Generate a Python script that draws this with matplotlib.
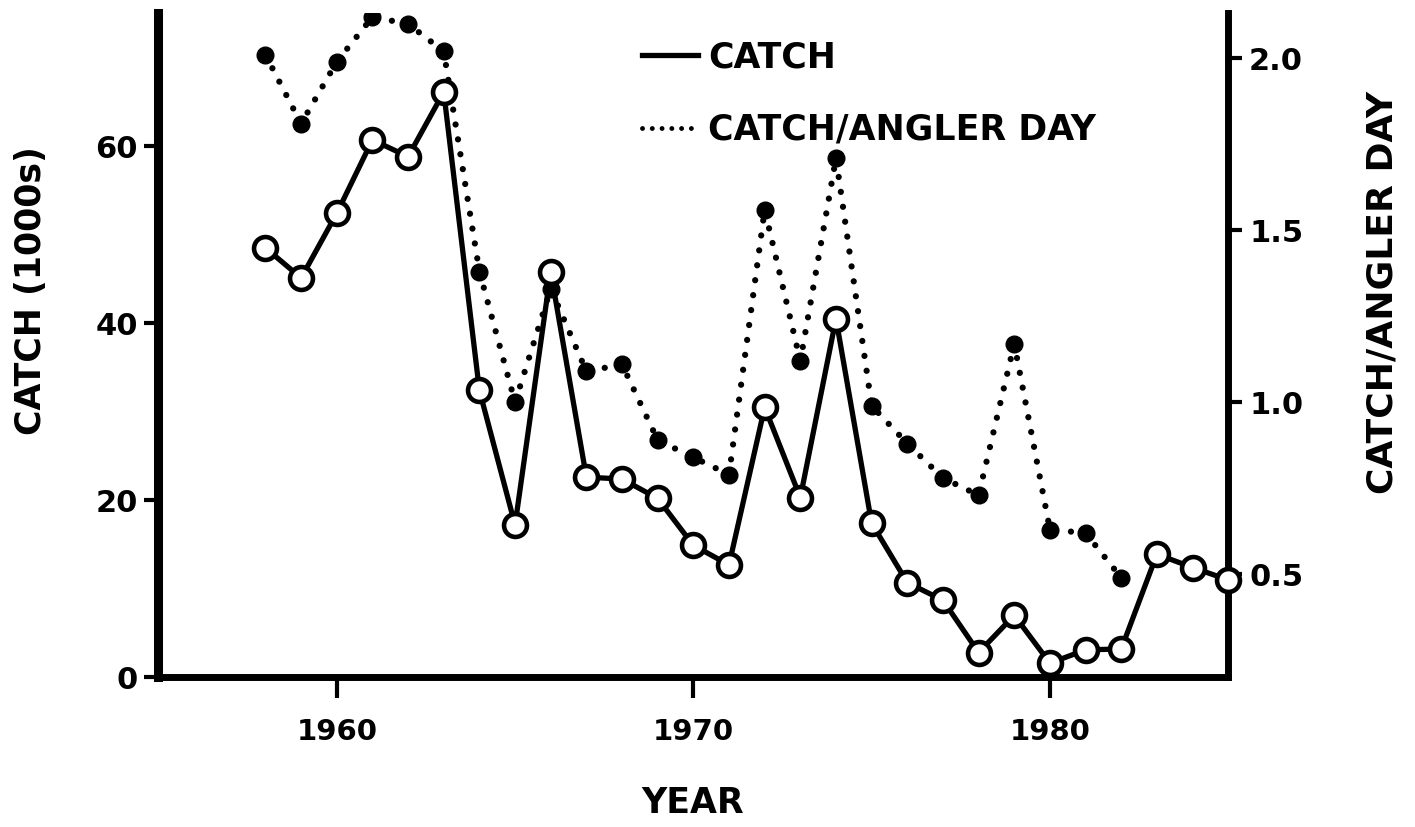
import numpy as np
import matplotlib.pyplot as plt
from matplotlib.lines import Line2D

# data
years = np.arange(1958, 1986)
catch = [48.5, 45.1, 52.4, 60.7, 58.8, 66.1, 32.4, 17.2, 45.8, 22.6,
         22.4, 20.2, 14.9, 12.7, 30.5, 20.3, 40.5, 17.4, 10.7, 8.7,
         2.8, 7.0, 1.6, 3.1, 3.2, 13.9, 12.4, 11.0]

cpue_years = np.arange(1958, 1983)
cpue = [2.01, 1.81, 1.99, 2.12, 2.10, 2.02, 1.38, 1.00, 1.33, 1.09,
        1.11, 0.89, 0.84, 0.79, 1.56, 1.12, 1.71, 0.99, 0.88, 0.78,
        0.73, 1.17, 0.63, 0.62, 0.49]

plt.rcParams['font.family'] = ['DejaVu Sans']
plt.rcParams['font.weight'] = 'bold'

fig = plt.figure(figsize=(14.15, 8.27), dpi=100)
ax = fig.add_axes([0.112, 0.181, 0.756, 0.803])
ax2 = ax.twinx()

# catch per angler day, dotted with big dots
ax2.plot(cpue_years, cpue, color='black', lw=4.5, linestyle=(0, (0.01, 2.4)),
         dash_capstyle='round', zorder=2)
ax2.plot(cpue_years, cpue, 'o', color='black', ms=12, zorder=3)

# catch line on top
ax.set_zorder(ax2.get_zorder() + 1)
ax.patch.set_visible(False)
ax.plot(years, catch, color='black', lw=3.8, marker='o', ms=16.5,
        mfc='white', mec='black', mew=3.3, zorder=4, clip_on=False)

ax.set_xlim(1955, 1985)
ax.set_ylim(0, 75)
ax2.set_ylim(0.2006, 2.131)

ax.set_xticks([1960, 1970, 1980])
ax.set_yticks([0, 20, 40, 60])
ax2.set_yticks([0.5, 1.0, 1.5, 2.0])
ax2.set_yticklabels(['0.5', '1.0', '1.5', '2.0'])

for a in (ax, ax2):
    a.spines['top'].set_visible(False)
ax.spines['left'].set_linewidth(6.5)
ax.spines['bottom'].set_linewidth(5)
ax.spines['right'].set_visible(False)
ax2.spines['left'].set_visible(False)
ax2.spines['bottom'].set_visible(False)
ax2.spines['right'].set_linewidth(5)

ax.tick_params(axis='x', direction='out', length=15, width=3, pad=14, labelsize=21)
ax.tick_params(axis='y', direction='out', length=10, width=3, pad=5, labelsize=22)
ax2.tick_params(axis='y', direction='out', length=10, width=3, pad=5, labelsize=22)

ax.set_xlabel('YEAR', fontsize=25, fontweight='bold')
ax.xaxis.set_label_coords(0.499, -0.163)
ax.set_ylabel('CATCH (1000s)', fontsize=25, fontweight='bold')
ax.yaxis.set_label_coords(-0.103, 0.583)
ax2.set_ylabel('CATCH/ANGLER DAY', fontsize=26, fontweight='bold')
ax2.yaxis.set_label_coords(1.128, 0.580)

handles = [Line2D([], [], color='black', lw=3.8),
           Line2D([], [], color='black', lw=3.5, linestyle=(0, (0.01, 2.0)),
                  dash_capstyle='round')]
ax.legend(handles, ['CATCH', 'CATCH/ANGLER DAY'], loc='upper left',
          bbox_to_anchor=(0.436, 0.985), frameon=False, fontsize=25,
          borderpad=0, handlelength=1.6, handletextpad=0.3, labelspacing=1.1)

fig.savefig('out.png', dpi=100)
